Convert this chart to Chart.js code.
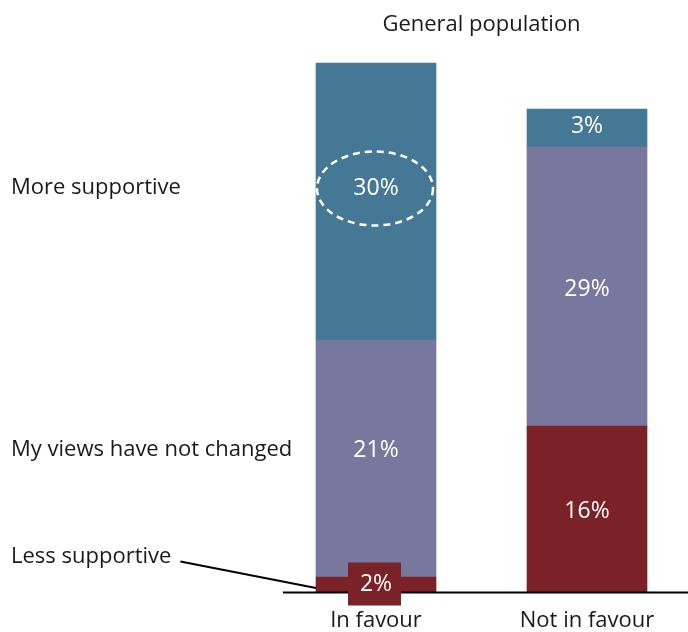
<!DOCTYPE html>
<html>
<head>
<meta charset="utf-8">
<script src="https://cdn.jsdelivr.net/npm/chart.js@4.4.1/dist/chart.umd.min.js"></script>
<style>
  html, body { margin: 0; padding: 0; background: #fff; overflow: hidden; }
  #wrap { width: 688px; height: 632px; }
</style>
</head>
<body>
<div id="wrap"><canvas id="myChart" width="688" height="632"></canvas></div>
<script>
// data
const categories = ['In favour', 'Not in favour'];
const seriesNames = ['Less supportive', 'My views have not changed', 'More supportive'];
const lessSupportive = [1.5, 16.6];
const noChange = [23.7, 27.9];
const moreSupportive = [27.7, 3.8];
const lessLabels = ['2%', '16%'];
const noChangeLabels = ['21%', '29%'];
const moreLabels = ['30%', '3%'];

const FONT = '"Open Sans", "Noto Sans", sans-serif';
const colors = ['#7a2227', '#78779d', '#457895'];

// labels inside bars, category names, left side captions, baseline, dashed ring
const annotate = {
    id: 'annotate',
    afterDatasetsDraw(chart) {
        const ctx = chart.ctx;
        const allLabels = [lessLabels, noChangeLabels, moreLabels];
        const shift = [[-1, 1], [-9, 2], [-14, -3]];
        const pos = [];

        ctx.save();
        // baseline
        const first = chart.getDatasetMeta(0).data[0];
        const baseY = chart.scales.y.getPixelForValue(0);
        ctx.strokeStyle = '#000';
        ctx.lineWidth = 2;
        ctx.beginPath();
        ctx.moveTo(first.x - first.width / 2 - 33, baseY + 0.5);
        ctx.lineTo(chart.width, baseY + 0.5);
        ctx.stroke();

        ctx.textAlign = 'center';
        ctx.textBaseline = 'middle';

        // category names under the bars
        ctx.font = '22px ' + FONT;
        ctx.fillStyle = '#1a1a1a';
        chart.getDatasetMeta(0).data.forEach(function (bar, i) {
            ctx.fillText(categories[i], bar.x, baseY + 29);
        });

        ctx.font = '23px ' + FONT;
        allLabels.forEach(function (labels, di) {
            pos[di] = [];
            chart.getDatasetMeta(di).data.forEach(function (bar, i) {
                const x = bar.x;
                const y = (bar.y + bar.base) / 2 + shift[di][i];
                pos[di][i] = { x: x, y: y };
                if (di === 0 && i === 0) {
                    // small segment gets a box behind its label
                    ctx.fillStyle = colors[0];
                    ctx.fillRect(x - 28, y - 21, 53, 43);
                }
                ctx.fillStyle = '#fff';
                ctx.fillText(labels[i], x, y + 1);
            });
        });

        // dashed ring round the 30% label
        const ring = pos[2][0];
        ctx.strokeStyle = '#fff';
        ctx.lineWidth = 2.5;
        ctx.setLineDash([7, 5]);
        ctx.beginPath();
        ctx.ellipse(ring.x - 1, ring.y + 1, 58, 37, 0, 0, Math.PI * 2);
        ctx.stroke();
        ctx.setLineDash([]);

        // captions on the left
        ctx.font = '22px ' + FONT;
        ctx.fillStyle = '#1a1a1a';
        ctx.textAlign = 'left';
        ctx.fillText(seriesNames[2], 11, pos[2][0].y);
        ctx.fillText(seriesNames[1], 11, pos[1][0].y);
        const lessY = pos[0][0].y - 27;
        ctx.fillText(seriesNames[0], 11, lessY);
        const w = ctx.measureText(seriesNames[0]).width;

        // leader line to the small segment
        ctx.strokeStyle = '#000';
        ctx.lineWidth = 2;
        ctx.beginPath();
        ctx.moveTo(11 + w + 9, lessY + 5);
        ctx.lineTo(first.x - first.width / 2, baseY - 4);
        ctx.stroke();
        ctx.restore();
    }
};

const ctx = document.getElementById('myChart').getContext('2d');

new Chart(ctx, {
    type: 'bar',
    data: {
        labels: categories,
        datasets: [
            { label: seriesNames[0], data: lessSupportive, backgroundColor: colors[0] },
            { label: seriesNames[1], data: noChange, backgroundColor: colors[1] },
            { label: seriesNames[2], data: moreSupportive, backgroundColor: colors[2] }
        ]
    },
    options: {
        responsive: false,
        animation: false,
        layout: { padding: { left: 376, right: 101, top: 0, bottom: 40 } },
        datasets: { bar: { barThickness: 120, clip: false, borderWidth: 0 } },
        plugins: {
            legend: { display: false },
            tooltip: { enabled: false },
            title: {
                display: true,
                fullSize: false,
                text: 'General population',
                color: '#1a1a1a',
                font: { family: FONT, size: 22, weight: 'normal', lineHeight: 1.2 },
                padding: { top: 12, bottom: 23.6 }
            }
        },
        scales: {
            x: {
                stacked: true,
                offset: false,
                display: false
            },
            y: {
                stacked: true,
                display: false,
                min: 0,
                max: 53
            }
        }
    },
    plugins: [annotate]
});
</script>
</body>
</html>
